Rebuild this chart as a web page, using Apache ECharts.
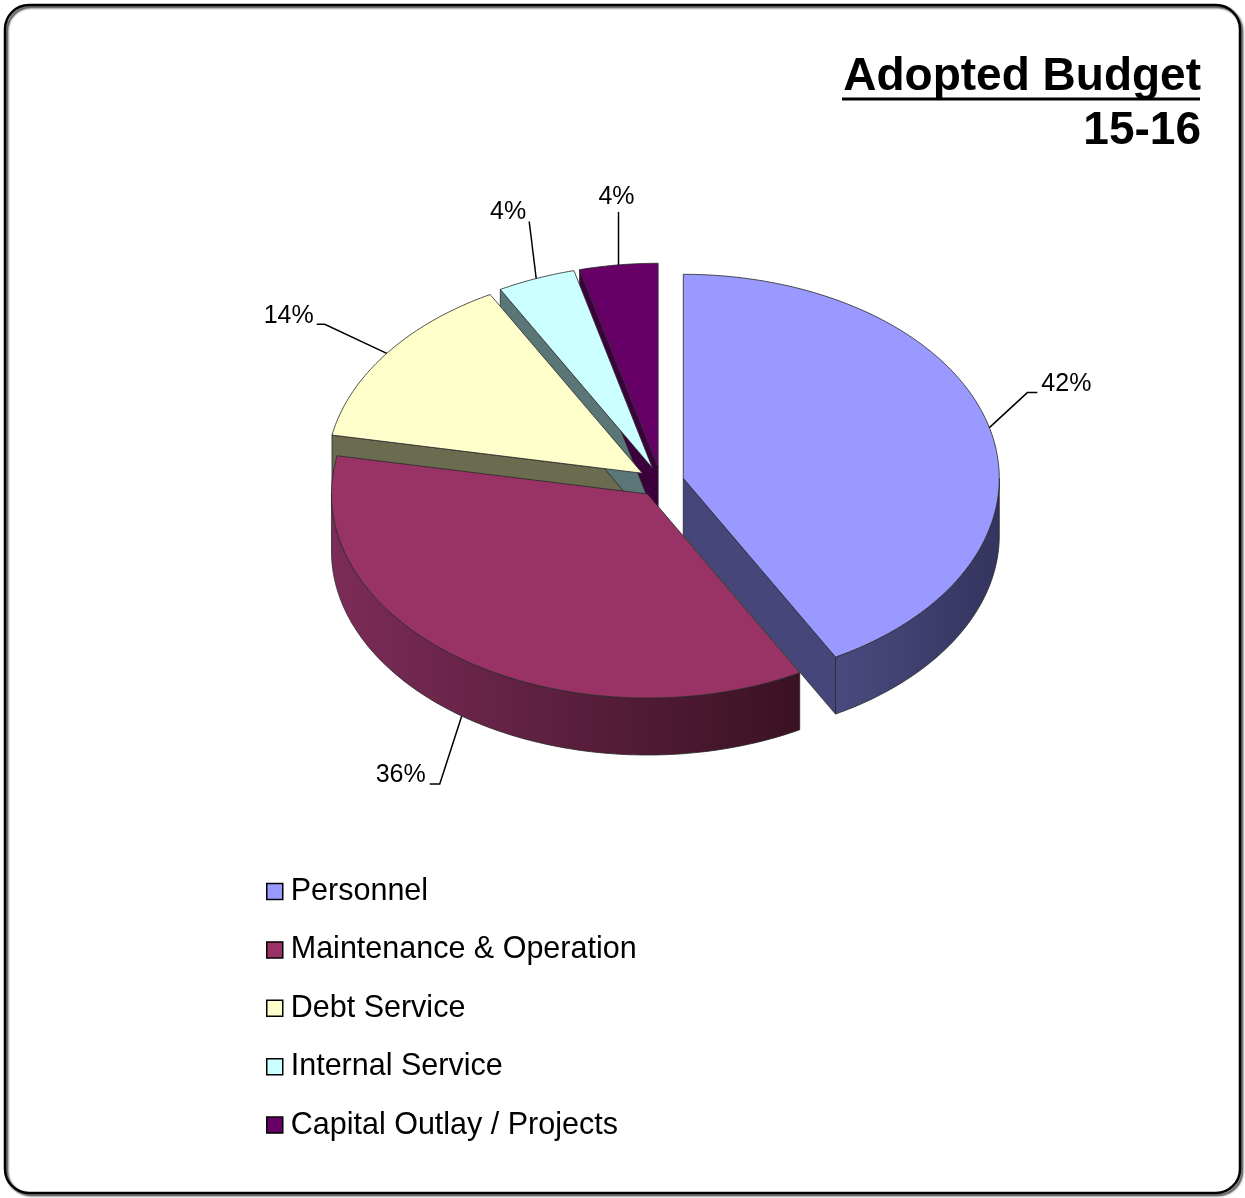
<!DOCTYPE html>
<html>
<head>
<meta charset="utf-8">
<title>Adopted Budget 15-16</title>
<script src="https://cdn.jsdelivr.net/npm/echarts@6/dist/echarts.min.js"></script>
<style>
  html, body { margin: 0; padding: 0; background: #fff; }
  #chart { width: 1245px; height: 1198px; }
</style>
</head>
<body>
<div id="chart"></div>
<script>
// Budget categories and their share of the adopted budget (percent)
const categories = ['Personnel', 'Maintenance & Operation', 'Debt Service', 'Internal Service', 'Capital Outlay / Projects'];
const shares = [42, 36, 14, 4, 4];

// Top-face, side-wall and cut-face colours per category
const topColors  = ['#9999FF', '#993366', '#FFFFCC', '#CCFFFF', '#660066'];
const cutColors  = ['#46467A', '#5A1E3C', '#6B6B50', '#5A7676', '#3C003C'];
const wallColors = [['#4A4A80', '#34345E'], ['#7C2C58', '#3A1222'], ['#6B6B50', '#55553E'], ['#5A7676', '#465E5E'], ['#3C003C', '#2C002C']];

const FONT = '"Liberation Sans", Arial, Helvetica, sans-serif';

// 3D pie geometry (pixels)
const CX = 661, CY = 482;      // centre of the top face
const RX = 316, RY = 204;      // ellipse radii of the top face
const DEPTH = 57;              // thickness of the pie
const EXPLODE = 23;            // distance every slice is pulled out

// Leader-line layout per slice: bend point relative to the rim anchor,
// horizontal tail, and where the label text sits relative to the line end
const labelLayout = [
  { bend: [38, -35], tail: 10,  text: [4, -8],  align: 'left' },
  { bend: [-22, 68], tail: -10, text: [-4, -9], align: 'right' },
  { bend: [-62, -29], tail: -8, text: [-3, -8], align: 'right' },
  { bend: [-7, -57], tail: 0,   text: [-3, -9], align: 'right' },
  { bend: [0, -53],  tail: 0,   text: [-2, -15], align: 'center' }
];

const total = shares.reduce((a, b) => a + b, 0);
const rad = d => d * Math.PI / 180;

function sliceGeom(i) {
  let before = 0;
  for (let k = 0; k < i; k++) before += shares[k];
  const start = before / total * 360;
  const end = (before + shares[i]) / total * 360;
  const mid = (start + end) / 2;
  const cx = CX + EXPLODE * Math.sin(rad(mid));
  const cy = CY - EXPLODE * (RY / RX) * Math.cos(rad(mid));
  return { start, end, mid, cx, cy };
}

function rim(cx, cy, deg, dy) {
  return [cx + RX * Math.sin(rad(deg)), cy - RY * Math.cos(rad(deg)) + (dy || 0)];
}

function arc(cx, cy, a, b, dy) {
  const pts = [];
  const n = Math.max(2, Math.ceil(Math.abs(b - a)));
  for (let k = 0; k <= n; k++) pts.push(rim(cx, cy, a + (b - a) * k / n, dy));
  return pts;
}

function cutFace(g, deg) {
  const p = rim(g.cx, g.cy, deg);
  return [[g.cx, g.cy], p, [p[0], p[1] + DEPTH], [g.cx, g.cy + DEPTH]];
}

function renderSlice(params, api) {
  const i = params.seriesIndex;
  const g = sliceGeom(i);
  const children = [];
  const edge = { stroke: 'rgba(40,40,40,0.8)', lineWidth: 1 };

  // outer wall on the front half of the ellipse
  const lo = Math.max(g.start, 90), hi = Math.min(g.end, 270);
  if (lo < hi) {
    const pts = arc(g.cx, g.cy, lo, hi).concat(arc(g.cx, g.cy, hi, lo, DEPTH));
    children.push({
      type: 'polygon', z2: 1,
      shape: { points: pts },
      style: Object.assign({
        fill: new echarts.graphic.LinearGradient(0, 0, 1, 0, [
          { offset: 0, color: wallColors[i][0] },
          { offset: 1, color: wallColors[i][1] }
        ])
      }, edge)
    });
  }
  // cut faces that turn toward the viewer
  if (Math.sin(rad(g.start)) < -1e-6) {
    children.push({ type: 'polygon', z2: 2, shape: { points: cutFace(g, g.start) },
      style: Object.assign({ fill: cutColors[i] }, edge) });
  }
  if (Math.sin(rad(g.end)) > 1e-6) {
    children.push({ type: 'polygon', z2: 2, shape: { points: cutFace(g, g.end) },
      style: Object.assign({ fill: cutColors[i] }, edge) });
  }
  // top face
  children.push({
    type: 'polygon', z2: 10,
    shape: { points: [[g.cx, g.cy]].concat(arc(g.cx, g.cy, g.start, g.end)) },
    style: Object.assign({ fill: topColors[i] }, edge)
  });

  // percentage label with leader line
  const front = Math.cos(rad(g.mid)) < 0;
  const anchor = rim(g.cx, g.cy, g.mid, front ? DEPTH : 0);
  const L = labelLayout[i];
  const bend = [anchor[0] + L.bend[0], anchor[1] + L.bend[1]];
  const tip = [bend[0] + L.tail, bend[1]];
  const linePts = L.tail ? [anchor, bend, tip] : [anchor, bend];
  children.push({
    type: 'polyline', z2: 20,
    shape: { points: linePts },
    style: { stroke: '#000', lineWidth: 1.5, fill: null }
  });
  children.push({
    type: 'text', z2: 20,
    style: {
      x: tip[0] + L.text[0], y: tip[1] + L.text[1],
      text: Math.round(api.value(0) / total * 100) + '%',
      font: '25px ' + FONT, fill: '#000',
      align: L.align, verticalAlign: 'middle'
    }
  });
  return { type: 'group', children: children };
}

const series = categories.map((name, i) => ({
  type: 'custom',
  name: name,
  coordinateSystem: 'none',
  renderItem: renderSlice,
  itemStyle: { color: topColors[i] },
  silent: true,
  data: [{ name: name, value: [shares[i]] }]
}));

const titleStyle = { fontSize: 46, fontWeight: 'bold', color: '#000', fontFamily: FONT, lineHeight: 52 };

const chart = echarts.init(document.getElementById('chart'), null, { renderer: 'canvas' });
chart.setOption({
  animation: false,
  backgroundColor: '#fff',
  title: [
    { text: 'Adopted Budget', right: 44, top: 51, padding: 0, textStyle: titleStyle },
    { text: '15-16', right: 44, top: 105, padding: 0, textStyle: titleStyle }
  ],
  legend: {
    orient: 'vertical',
    left: 266,
    top: 876,
    padding: 0,
    icon: 'rect',
    itemWidth: 16,
    itemHeight: 16,
    itemGap: 27.4,
    selectedMode: false,
    itemStyle: { borderColor: '#000', borderWidth: 1.5 },
    textStyle: { fontSize: 30.5, lineHeight: 30, color: '#000', fontFamily: FONT, padding: [0, 0, 0, 3] },
    data: categories
  },
  graphic: [
    {
      type: 'rect', z: 100, silent: true,
      shape: { x: 5, y: 5, width: 1235, height: 1188, r: 24 },
      style: { fill: null, stroke: '#000', lineWidth: 2.5,
        shadowColor: 'rgba(0,0,0,0.75)', shadowBlur: 2, shadowOffsetX: 2, shadowOffsetY: 2 }
    },
    {
      type: 'line', z: 100, silent: true,
      shape: { x1: 842, y1: 99, x2: 1200, y2: 99 },
      style: { stroke: '#000', lineWidth: 3 }
    }
  ],
  series: series
});
</script>
</body>
</html>
